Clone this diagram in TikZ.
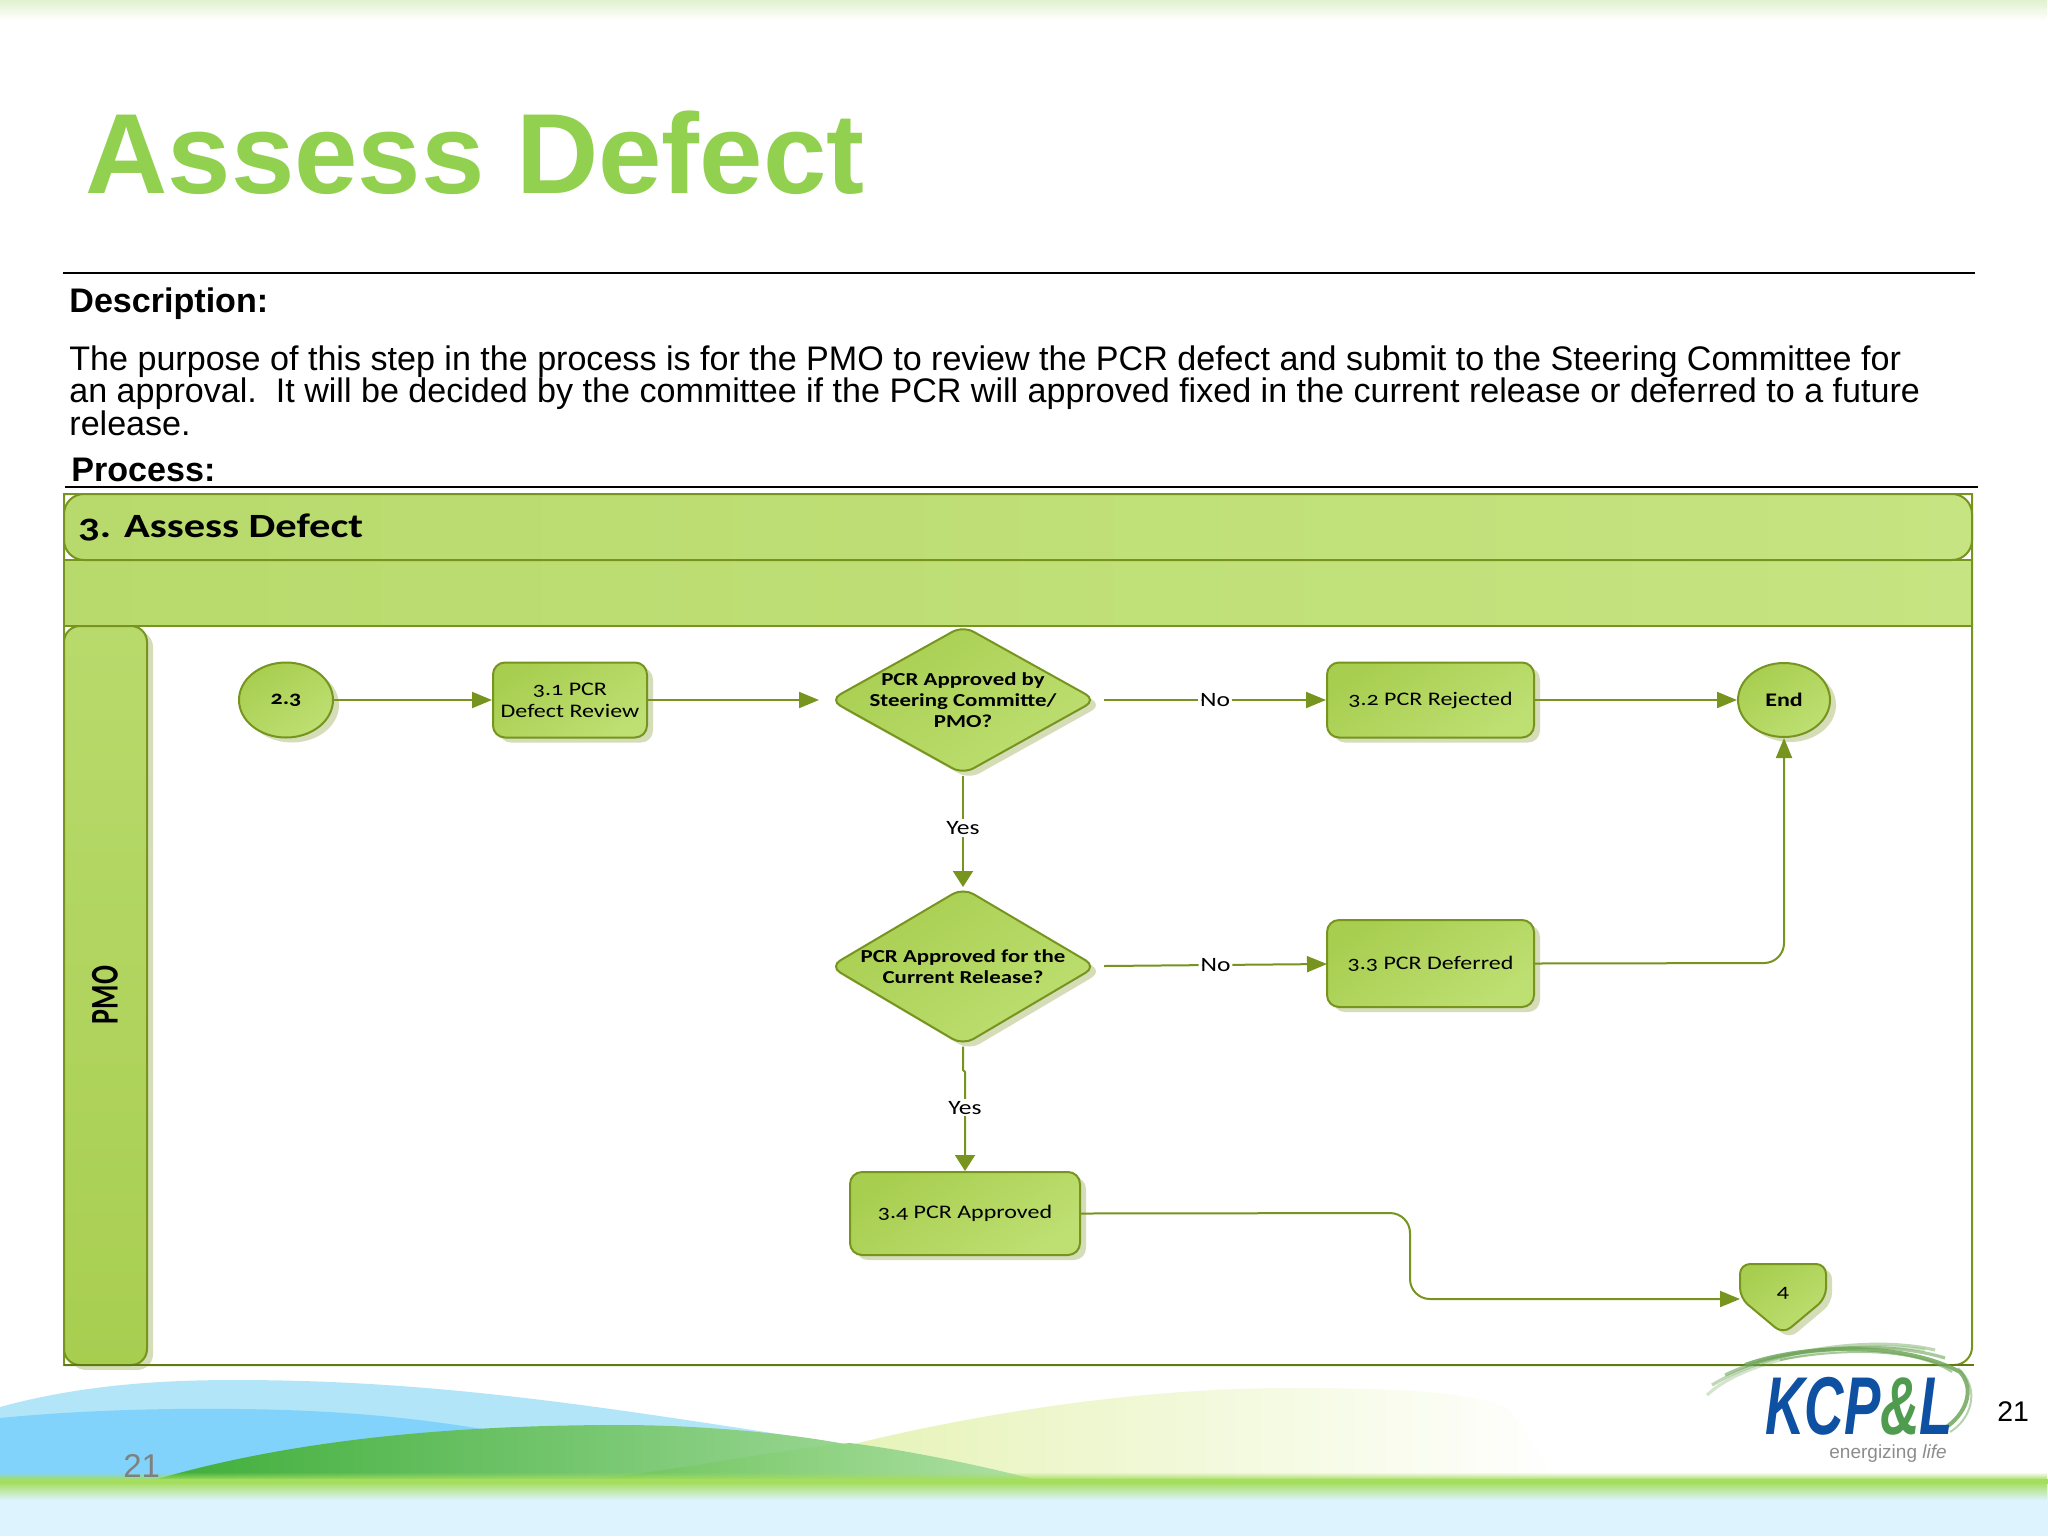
\documentclass[tikz,border=0pt]{standalone}
\usepackage{fontspec}
\usepackage{graphicx}
\usetikzlibrary{arrows.meta,shapes.geometric,shadows,calc,fadings}
\setmainfont{Liberation Sans}
\newfontfamily\diag[Numbers=OldStyle,FakeStretch=1.25]{Carlito}
\newfontfamily\diagplain{Carlito}
\definecolor{edge}{HTML}{76941E}
\definecolor{boxa}{HTML}{A8CE50}
\definecolor{boxb}{HTML}{BEDF72}
\definecolor{banda}{HTML}{B8DA6C}
\definecolor{bandb}{HTML}{C6E481}
\definecolor{shad}{HTML}{D4DDB8}
\definecolor{titlegreen}{HTML}{92D050}
\definecolor{skyb}{HTML}{DDF3FD}
\definecolor{skyback}{HTML}{B3E5F9}
\definecolor{skyfront}{HTML}{82D3FB}
\definecolor{hilla}{HTML}{3FAE3A}
\definecolor{hillb}{HTML}{72C766}
\definecolor{hillc}{HTML}{B0E0A8}
\definecolor{hilld}{HTML}{6CC45A}
\definecolor{pale}{HTML}{E6F3B8}
\definecolor{stripe}{HTML}{A4DE5C}
\definecolor{logoblue}{HTML}{0E50A2}
\definecolor{logogreen}{HTML}{4F9C50}
\definecolor{swoosh}{HTML}{6FA65A}
\definecolor{footline}{HTML}{5F7A12}
\tikzset{
  fillbox/.style={draw=edge,line width=1pt,shading=axis,left color=boxa,right color=boxb,shading angle=35,
    drop shadow={shadow xshift=3pt,shadow yshift=-2.5pt,fill=shad,opacity=1}},
  proc/.style={fillbox,rectangle,rounded corners=6pt,inner sep=0pt,align=center,font=\diag\fontsize{9.6}{11}\selectfont,text=black},
  term/.style={fillbox,ellipse,inner sep=0pt,font=\diag\bfseries\fontsize{9.6}{11}\selectfont,text=black},
  dec/.style={fillbox,diamond,rounded corners=6pt,inner sep=0pt,minimum width=133.5pt,minimum height=74.5pt,aspect=1.75},
  dectext/.style={align=center,font=\diag\bfseries\fontsize{9.15}{10.6}\selectfont,text=black,inner sep=0pt},
  link/.style={draw=edge,line width=1pt,rounded corners=10pt,-{Triangle[length=10pt,width=8pt]}},
  vlink/.style={draw=edge,line width=1pt,-{Triangle[length=8pt,width=10pt]}},
  tag/.style={fill=white,inner sep=1pt,font=\diag\fontsize{10.2}{11}\selectfont,text=black},
  rule/.style={draw=black,line width=0.8pt},
  body/.style={anchor=base west,inner sep=0pt,font=\fontsize{17.04}{20}\selectfont,text=black},
  bodybold/.style={body,font=\bfseries\fontsize{17.04}{20}\selectfont},
}
\begin{document}
\begin{tikzpicture}[x=0.5pt,y=-0.5pt]
\useasboundingbox (0,0) rectangle (2048,1536);
% top band
\fill[titlegreen!28!white,path fading=south] (0,0) rectangle (2048,20);
% pale hill
\shade[left color=pale,right color=white]
  (850,1445) .. controls (950,1420) and (1120,1388) .. (1290,1388)
  .. controls (1400,1388) and (1480,1392) .. (1510,1410)
  .. controls (1530,1440) and (1545,1460) .. (1560,1481) -- (850,1481) -- cycle;
% blue hills
\fill[skyback]
  (0,1407) .. controls (80,1385) and (160,1380) .. (235,1380)
  .. controls (450,1380) and (620,1410) .. (850,1445)
  .. controls (930,1455) and (990,1470) .. (1024,1481) -- (0,1481) -- cycle;
\fill[skyfront]
  (0,1418) .. controls (80,1410) and (170,1408) .. (240,1409)
  .. controls (340,1410) and (420,1418) .. (500,1432) -- (154,1481) -- (0,1481) -- cycle;
% green hills
\shade[left color=hilla,middle color=hillb,right color=hillc]
  (154,1480) .. controls (290,1440) and (450,1425) .. (620,1425)
  .. controls (710,1425) and (800,1435) .. (850,1445)
  .. controls (920,1455) and (1000,1470) .. (1040,1481) -- cycle;
\shade[left color=hilld,right color=hillc]
  (590,1480) .. controls (690,1468) and (790,1448) .. (850,1443)
  .. controls (920,1452) and (1000,1470) .. (1040,1481) -- cycle;
% horizon
\fill[skyb] (0,1481) rectangle (2048,1536);
\fill[stripe,path fading=north] (0,1472) rectangle (2048,1480);
\fill[stripe] (0,1479) rectangle (2048,1484);
\fill[stripe,path fading=south] (0,1482) rectangle (2048,1500);
% title and text
\node[anchor=base west,inner sep=0pt,font=\bfseries\fontsize{57}{60}\selectfont,text=titlegreen] (title) at (85,193) {Assess Defect};
\draw[rule] (63,273) -- (1975,273);
\node[bodybold] (desc) at (69,312) {Description:};
\node[body] (l1) at (69,370) {The purpose of this step in the process is for the PMO to review the PCR defect and submit to the Steering Committee for};
\node[body] (l2) at (69,402) {an approval.\ \ It will be decided by the committee if the PCR will approved fixed in the current release or deferred to a future};
\node[body] (l3) at (69,435) {release.};
\node[bodybold] (proc) at (71,481) {Process:};
\draw[rule] (65,487) -- (1978,487);
% pool
\draw[edge,line width=1pt,fill=white] (64,494) -- (1972,494) [rounded corners=9pt] -- (1972,1365) [rounded corners=0pt] -- (64,1365) -- cycle;
\draw[draw=edge,line width=1pt,left color=banda,right color=bandb] (64,560) rectangle (1972,626);
\draw[draw=edge,line width=1pt,left color=banda,right color=bandb,rounded corners=10pt] (64,494) rectangle (1972,560);
\node[anchor=base west,inner sep=0pt,font=\diag\bfseries\fontsize{17}{20}\selectfont,text=black] (head) at (78,537) {3. Assess Defect};
\draw[draw=edge,line width=1pt,top color=banda,bottom color=boxa,rounded corners=8pt,
  drop shadow={shadow xshift=3pt,shadow yshift=-2.5pt,fill=shad,opacity=1}] (64,626) rectangle (147,1365);
\node[rotate=90,inner sep=0pt,font=\diagplain\bfseries\fontsize{14}{16}\selectfont,text=black] (lane) at (105,995) {\scalebox{1}[1.4]{PMO}};
\draw[draw=footline,line width=1.3pt] (64,1365) -- (1974,1365);
% nodes
\node[term,minimum width=47pt,minimum height=37.5pt] (s23) at (286,700) {2.3};
\node[proc,minimum width=77pt,minimum height=37.5pt] (p31) at (570,700) {3.1 PCR\\Defect Review};
\node[dec,label={[dectext]center:PCR Approved by\\Steering Committe/\\PMO?}] (d1) at (963,700) {};
\node[dec,minimum height=79pt,aspect=1.66,label={[dectext]center:PCR Approved for the\\Current Release?}] (d2) at (963,966.5) {};
\node[proc,minimum width=103.5pt,minimum height=37.5pt] (p32) at (1430.5,700) {3.2 PCR Rejected};
\node[proc,minimum width=103.5pt,minimum height=43.5pt] (p33) at (1430.5,963.5) {3.3 PCR Deferred};
\node[term,minimum width=46pt,minimum height=37pt] (e) at (1784,700) {End};
\node[proc,minimum width=115pt,minimum height=41.5pt] (p34) at (965,1213.5) {3.4 PCR Approved};
\draw[fillbox,rounded corners=5pt] (1740,1264) -- (1826,1264) -- (1826,1298) -- (1783,1334) -- (1740,1298) -- cycle;
\node[inner sep=0pt,font=\diag\fontsize{9.6}{11}\selectfont,text=black] (off4) at (1783,1293) {4};
% connector ends
\coordinate (d1in) at (819,700);
\coordinate (d1out) at (1104,700);
\coordinate (d2out) at (1104,966);
\coordinate (d2in) at (963,887);
\coordinate (off4w) at (1740,1299);
\coordinate (turn1) at (1410,1213);
\coordinate (turn2) at (1410,1299);
\coordinate (turn3) at (1784,963);
\coordinate (kink) at (965,1072);
\coordinate (p33in) at (1327,964);
% connectors
\draw[link] (s23) -- (p31);
\draw[link] (p31.east) -- (d1in);
\draw[link] (d1out) -- node[tag] (no1) {No} (p32);
\draw[link] (p32) -- (e);
\draw[vlink] (d1.south) -- node[tag,pos=.47] (yes1) {Yes} (d2in);
\draw[link] (d2out) -- node[tag] (no2) {No} (p33in);
\draw[link] (p33.east) -- (turn3) -- (e.south);
\draw[vlink] (d2.south) -- (963,1070) -- (kink) -- node[tag,pos=.36] (yes2) {Yes} (p34.north);
\draw[link] (p34.east) -- (turn1) -- (turn2) -- (off4w);
% logo
\begin{scope}[swoosh]
\draw[line width=1.6pt,opacity=.3] (1707,1395) .. controls (1750,1355) and (1860,1340) .. (1925,1350);
\draw[line width=1.6pt,opacity=.45] (1712,1385) .. controls (1770,1350) and (1870,1335) .. (1935,1350);
\draw[line width=1.6pt,opacity=.6] (1725,1375) .. controls (1780,1348) and (1880,1338) .. (1945,1358);
\draw[line width=2pt,opacity=.85] (1745,1365) .. controls (1800,1345) and (1900,1340) .. (1960,1372) .. controls (1976,1390) and (1965,1415) .. (1945,1428);
\draw[line width=1pt,opacity=.6] (1780,1360) .. controls (1830,1350) and (1910,1345) .. (1952,1372);
\draw[line width=1pt,opacity=.5] (1958,1368) .. controls (1982,1390) and (1970,1420) .. (1950,1432);
\end{scope}
\node[anchor=base west,inner sep=0pt,text depth=0pt,font=\bfseries\itshape\fontsize{41}{44}\selectfont,text=logoblue] (logo) at (1765,1434) {\scalebox{0.665}[1]{KCP\textcolor{logogreen}{\&}L}};
\node[anchor=base west,inner sep=0pt,font=\fontsize{9.5}{10}\selectfont,text=black!45] (tagline) at (1829,1458) {energizing \textit{life}};
\node[anchor=base west,inner sep=0pt,font=\fontsize{14.2}{16}\selectfont,text=black] (pageb) at (1997,1421) {21};
\node[anchor=base west,inner sep=0pt,font=\fontsize{16.5}{18}\selectfont,text=black!50] (pagea) at (123,1477) {21};
\end{tikzpicture}
\end{document}
